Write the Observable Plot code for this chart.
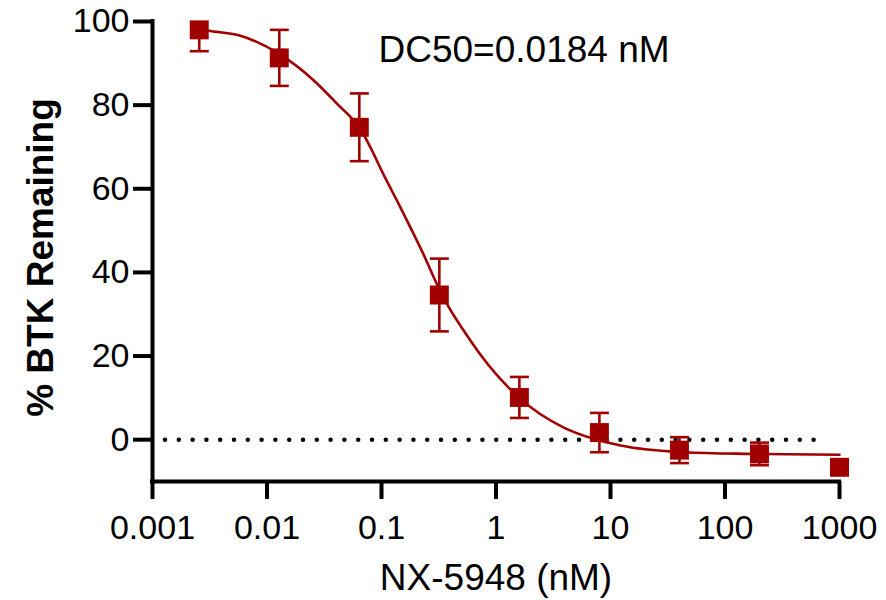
<!DOCTYPE html>
<html><head><meta charset="utf-8">
<script src="https://cdn.jsdelivr.net/npm/d3@7"></script>
<script src="https://cdn.jsdelivr.net/npm/@observablehq/plot@0.6"></script>
<style>
  html,body{margin:0;padding:0;background:#fff;}
  #chart svg{display:block;}
</style>
</head><body><div id="chart"></div>
<script>
// Measured points (5-fold dilution series, nM)
const concentrations = [0.00256, 0.0128, 0.064, 0.32, 1.6, 8, 40, 200, 1000];
const meanRemaining  = [98.0, 91.3, 74.7, 34.6, 10.1, 1.7, -2.5, -3.4, -6.6];
const errRemaining   = [5.1, 6.7, 8.1, 8.7, 4.9, 4.7, 3.1, 2.7, 0.6];

// Fitted curve
const fitConc      = [0.00256, 0.00307, 0.00567, 0.01268, 0.02563, 0.0410, 0.0638, 0.1106, 0.1466, 0.1792, 0.2328, 0.3197, 0.3871, 0.531, 0.7322, 1.598, 3.909, 7.146, 12.23, 43.68, 167.0, 1000];
const fitRemaining = [98.2, 97.8, 96.7, 92.3, 85.9, 80.3, 74.7, 62.0, 55.5, 50.7, 44.3, 36.0, 31.7, 25.8, 20.3, 10.0, 2.9, 0.2, -1.4, -3.0, -3.4, -3.6];

const refLine = [0];
const xTicks = [0.001, 0.01, 0.1, 1, 10, 100, 1000];
const xTickLabels = ["0.001", "0.01", "0.1", "1", "10", "100", "1000"];
const yTicks = [0, 20, 40, 60, 80, 100];
const xDomain = [0.001, 1000];
const yDomain = [-10, 100];
const xTitle = "NX-5948 (nM)";
const yTitle = "% BTK Remaining";
const dcLabel = "DC50=0.0184 nM";

const red = "#a00000";
const font = "'Liberation Sans', Arial, Helvetica, sans-serif";

const points = concentrations.map((c, i) => ({
  conc: c, mean: meanRemaining[i],
  lo: meanRemaining[i] - errRemaining[i],
  hi: meanRemaining[i] + errRemaining[i]
}));
const fit = fitConc.map((c, i) => ({conc: c, value: fitRemaining[i]}));
const tickLabelMap = new Map(xTicks.map((t, i) => [t, xTickLabels[i]]));

const capSymbol = {
  draw(context) { context.moveTo(-9.5, 0); context.lineTo(9.5, 0); }
};

const chart = Plot.plot({
  width: 886,
  height: 600,
  marginLeft: 152,
  marginRight: 47,
  marginTop: 21,
  marginBottom: 119,
  style: {fontFamily: font, background: "#fff", color: "#000"},
  x: {type: "log", domain: xDomain},
  y: {domain: yDomain},
  marks: [
    Plot.ruleY(refLine, {stroke: "#000", strokeWidth: 4.5, strokeDasharray: "0 13.8", strokeLinecap: "round", insetLeft: 13, insetRight: 13}),
    Plot.line(fit, {x: "conc", y: "value", stroke: red, strokeWidth: 2.6, curve: "monotone-x"}),
    Plot.ruleX(points, {x: "conc", y1: "lo", y2: "hi", stroke: red, strokeWidth: 2.6, clip: true}),
    Plot.dot(points, {x: "conc", y: "lo", symbol: capSymbol, r: 5, stroke: red, strokeWidth: 2.6, fill: "none", clip: true}),
    Plot.dot(points, {x: "conc", y: "hi", symbol: capSymbol, r: 5, stroke: red, strokeWidth: 2.6, fill: "none", clip: true}),
    Plot.dot(points, {x: "conc", y: "mean", symbol: "square", r: 10.7, fill: red, stroke: null}),
    Plot.axisX({ticks: xTicks, tickFormat: d => tickLabelMap.get(d), tickSize: 18, tickPadding: 15, fontSize: 34, strokeWidth: 4, label: null}),
    Plot.axisY({ticks: yTicks, tickSize: 19, tickPadding: 4, fontSize: 34, strokeWidth: 4, label: null}),
    Plot.ruleX([xDomain[0]], {stroke: "#000", strokeWidth: 4, strokeLinecap: "square"}),
    Plot.ruleY([yDomain[0]], {stroke: "#000", strokeWidth: 4, strokeLinecap: "square"}),
    Plot.text([xTitle], {frameAnchor: "bottom", text: d => d, dy: 96.7, fontSize: 37, lineAnchor: "middle", fill: "#000"}),
    Plot.text([yTitle], {frameAnchor: "left", text: d => d, dx: -111, dy: 6, rotate: -90, fontSize: 37, fontWeight: "bold", lineAnchor: "middle", textAnchor: "middle", fill: "#000"}),
    Plot.text([dcLabel], {frameAnchor: "top-left", text: d => d, dx: 226, dy: 28.9, fontSize: 37, textAnchor: "start", lineAnchor: "middle", fill: "#000"})
  ]
});
document.getElementById("chart").appendChild(chart);
</script>
</body></html>
